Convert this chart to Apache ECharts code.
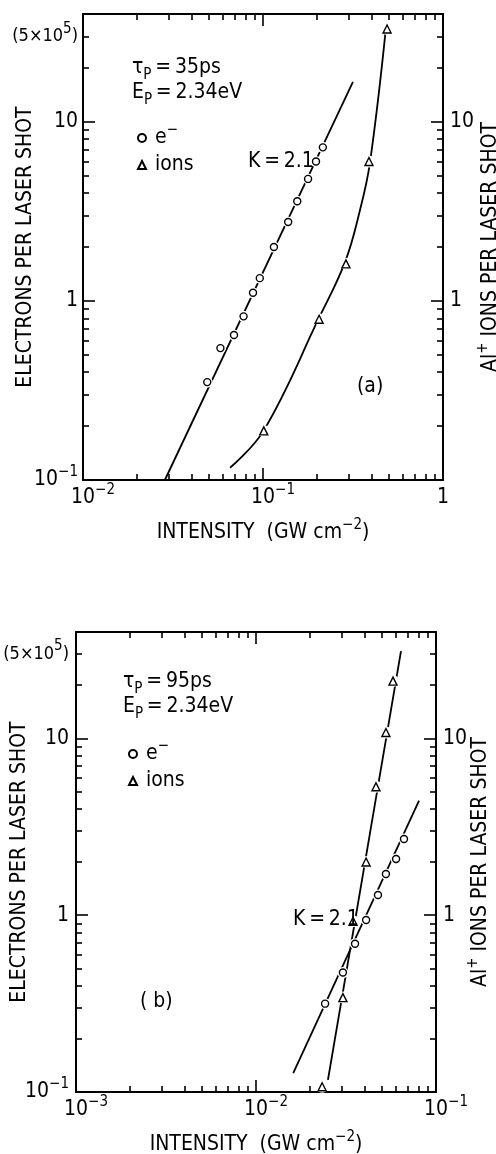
<!DOCTYPE html>
<html>
<head>
<meta charset="utf-8">
<script src="https://cdn.jsdelivr.net/npm/echarts@6.0.0/dist/echarts.min.js"></script>
<style>
  html, body { margin: 0; padding: 0; background: #fff; }
  #chart { width: 496px; height: 1154px; }
</style>
</head>
<body>
<div id="chart"></div>
<script>
// ---- panel (a): tau_p = 35 ps ----
const electronsA = [[0.049, 0.352], [0.058, 0.545], [0.069, 0.645], [0.078, 0.82], [0.088, 1.11], [0.096, 1.34],
  [0.115, 2.0], [0.138, 2.76], [0.155, 3.6], [0.178, 4.8], [0.197, 6.0], [0.215, 7.2]];
const electronFitA = [[0.0285, 0.1], [0.316, 16.7]];
const ionsA = [[0.101, 0.188], [0.205, 0.79], [0.289, 1.61], [0.388, 6.0], [0.489, 33]];
// points
const ionCurveA = [[0.0656, 0.117], [0.1006, 0.188], [0.2046, 0.803], [0.2858, 1.652], [0.3459, 3.22],
  [0.3926, 5.90], [0.482, 33.5]];

// ---- panel (b): tau_p = 95 ps ----
const electronsB = [[0.0242, 0.316], [0.0304, 0.474], [0.0355, 0.69], [0.0409, 0.94], [0.0476, 1.30],
  [0.0527, 1.71], [0.060, 2.08], [0.0664, 2.70]];
const electronFitB = [[0.0161, 0.128], [0.0805, 4.45]];
const ionsB = [[0.0233, 0.107], [0.0304, 0.342], [0.0346, 0.925], [0.0409, 2.0], [0.0464, 5.33], [0.0527, 10.8], [0.0577, 21.1]];
const ionFitB = [[0.0251, 0.117], [0.0639, 31.2]];

// ---- axes ----
const xRangeA = [0.01, 1];
const xRangeB = [0.001, 0.1];
const yRange = [0.1, 40];
const xMajorA = [0.01, 0.1, 1];
const xMinorA = [0.02, 0.03, 0.04, 0.05, 0.06, 0.07, 0.08, 0.09, 0.2, 0.3, 0.4, 0.5, 0.6, 0.7, 0.8, 0.9];
const xMajorB = [0.001, 0.01, 0.1];
const xMinorB = [0.002, 0.003, 0.004, 0.005, 0.006, 0.007, 0.008, 0.009, 0.02, 0.03, 0.04, 0.05, 0.06, 0.07, 0.08, 0.09];
const yMajor = [0.1, 1, 10];
const yMinor = [0.2, 0.3, 0.4, 0.5, 0.6, 0.7, 0.8, 0.9, 2, 3, 4, 5, 6, 7, 8, 9, 20, 30];
const xLabelsA = ['10^{−2}', '10^{−1}', '1'];
const xLabelsB = ['10^{−3}', '10^{−2}', '10^{−1}'];
const yLeftValues = [0.1, 1, 10, 30];
const yLeftLabels = ['10^{−1}', '1', '10', '(5×10^{5})'];
const yRightValues = [1, 10];
const yRightLabels = ['1', '10'];

const FONT = "'Liberation Sans Narrow', 'DejaVu Sans Condensed', 'DejaVu Sans', sans-serif";
const rich = {
  n: { fontFamily: FONT, fontSize: 21, color: '#000', lineHeight: 30 },
  s: { fontFamily: FONT, fontSize: 15, color: '#000', verticalAlign: 'top' },
  p: { fontFamily: FONT, fontSize: 15, color: '#000', verticalAlign: 'bottom' },
  m: { fontFamily: FONT, fontSize: 18, color: '#000', lineHeight: 30 },
  w: { width: 20 },
  g: { width: 4 }
};

// '10^{-1}' -> rich text with superscript, 'E_{P}' -> subscript
function rt(str, base) {
  base = base || 'n';
  return '{' + base + '|' + str.replace(/\^\{(.*?)\}/g, '}{s|$1}{' + base + '|')
    .replace(/_\{(.*?)\}/g, '}{p|$1}{' + base + '|') + '}';
}
function pick(values, labels, shift) {
  return function (v) {
    for (let i = 0; i < values.length; i++) {
      if (Math.abs(Math.log10(v) - Math.log10(values[i])) < 1e-6) {
        // the bracketed scale note is set a little smaller so it fits left of the axis
        const t = rt(labels[i], labels[i].charAt(0) === '(' ? 'm' : 'n');
        return shift && labels[i].indexOf('^') >= 0 ? '{w|}' + t : t;
      }
    }
    return '';
  };
}

const lineBlack = { color: '#000', width: 2 };
const tickStyle = { color: '#000', width: 1.6 };

function axis(grid, pos, range, ticks, len, opts) {
  opts = opts || {};
  return {
    type: 'log', logBase: 10, gridIndex: grid, position: pos,
    min: range[0], max: range[1],
    axisLine: { show: !!opts.line, onZero: false, lineStyle: lineBlack },
    axisTick: { show: true, inside: true, length: len, customValues: ticks, lineStyle: tickStyle },
    axisLabel: opts.labels ? {
      show: true, customValues: opts.labels[0], formatter: pick(opts.labels[0], opts.labels[1], opts.shift),
      margin: opts.margin, rich: rich
    } : { show: false },
    splitLine: { show: false },
    minorTick: { show: false },
    name: opts.name || '',
    nameLocation: 'middle', nameGap: opts.nameGap || 0, nameRotate: opts.nameRotate,
    nameMoveOverlap: false,
    nameTextStyle: { rich: rich }
  };
}

function panel(g, xRange, xMajor, xMinor, xLabels, nameGaps) {
  const xs = [
    axis(g, 'bottom', xRange, xMajor, 12, { line: true, labels: [xMajor, xLabels], margin: 3, shift: true,
      name: rt('INTENSITY  (GW cm^{−2})'), nameGap: nameGaps[0] }),
    axis(g, 'bottom', xRange, xMinor, 6),
    axis(g, 'top', xRange, xMajor, 12, { line: true }),
    axis(g, 'top', xRange, xMinor, 6)
  ];
  const ys = [
    axis(g, 'left', yRange, yMajor, 12, { line: true, labels: [yLeftValues, yLeftLabels], margin: nameGaps[3],
      name: rt('ELECTRONS PER LASER SHOT'), nameGap: nameGaps[1], nameRotate: 90 }),
    axis(g, 'left', yRange, yMinor, 6),
    axis(g, 'right', yRange, yMajor, 12, { line: true, labels: [yRightValues, yRightLabels], margin: 7,
      name: rt('Al^{+} IONS PER LASER SHOT'), nameGap: nameGaps[2], nameRotate: 90 }),
    axis(g, 'right', yRange, yMinor, 6)
  ];
  return { xs: xs, ys: ys };
}

const pa = panel(0, xRangeA, xMajorA, xMinorA, xLabelsA, [38, 42, 33, 5]);
const pb = panel(1, xRangeB, xMajorB, xMinorB, xLabelsB, [38, 41, 30, 7]);

function fit(name, data, xi, yi, smooth) {
  return {
    name: name, type: 'line', data: data, xAxisIndex: xi, yAxisIndex: yi,
    symbol: 'none', smooth: smooth || false, silent: true, z: 2,
    lineStyle: { color: '#000', width: 1.8 }
  };
}
function points(name, data, xi, yi, symbol, size) {
  return {
    name: name, type: 'scatter', data: data, xAxisIndex: xi, yAxisIndex: yi,
    symbol: symbol, symbolSize: size, z: 5,
    itemStyle: { color: '#fff', borderColor: '#000', borderWidth: 1.4, opacity: 1 }
  };
}
// white disc under each marker, leaves the gap in the line seen in the original
function halo(name, data, xi, yi, size) {
  return {
    name: name, type: 'scatter', data: data, xAxisIndex: xi, yAxisIndex: yi,
    symbol: 'circle', symbolSize: size, z: 4, silent: true,
    itemStyle: { color: '#fff', borderWidth: 0, opacity: 1 }
  };
}

function legend(left, top) {
  return {
    orient: 'vertical', left: left, top: top, itemWidth: 8, itemHeight: 8, itemGap: 6,
    selectedMode: false, data: ['e-', 'ions'],
    formatter: function (name) { return '{g|}' + (name === 'e-' ? rt('e^{−}') : rt(name)); },
    textStyle: { rich: rich }
  };
}

function label(text, x, y) {
  return {
    type: 'text', x: x, y: y, z: 10,
    style: { text: rt(text), rich: rich, verticalAlign: 'middle', align: 'left', fill: '#000' }
  };
}

const myChart = echarts.init(document.getElementById('chart'), null, { renderer: 'canvas' });
myChart.setOption({
  backgroundColor: '#fff',
  animation: false,
  grid: [
    { left: 83, top: 14, width: 360, height: 466, outerBoundsMode: 'none', containLabel: false },
    { left: 76, top: 632, width: 360, height: 460, outerBoundsMode: 'none', containLabel: false }
  ],
  xAxis: pa.xs.concat(pb.xs),
  yAxis: pa.ys.concat(pb.ys),
  legend: [legend(132, 118), legend(123, 734)],
  series: [
    fit('fitA', electronFitA, 0, 0),
    fit('curveA', ionCurveA, 0, 0, 0.4),
    halo('haloA1', electronsA, 0, 0, 11),
    halo('haloA2', ionsA, 0, 0, 12),
    points('e-', electronsA, 0, 0, 'circle', 7),
    points('ions', ionsA, 0, 0, 'triangle', 8),
    fit('fitB1', electronFitB, 4, 4),
    fit('fitB2', ionFitB, 4, 4),
    halo('haloB1', electronsB, 4, 4, 11),
    halo('haloB2', ionsB, 4, 4, 12),
    points('e-', electronsB, 4, 4, 'circle', 7),
    points('ions', ionsB, 4, 4, 'triangle', 8)
  ],
  graphic: [
    label('τ_{P}\u2009=\u200935ps', 132, 68),
    label('E_{P}\u2009=\u20092.34eV', 132, 93),
    label('K\u2009=\u20092.1', 248, 162),
    label('(a)', 357, 387),
    label('τ_{P}\u2009=\u200995ps', 123, 682),
    label('E_{P}\u2009=\u20092.34eV', 123, 707),
    label('K\u2009=\u20092.1', 293, 920),
    label('( b)', 140, 1002)
  ]
});
</script>
</body>
</html>
